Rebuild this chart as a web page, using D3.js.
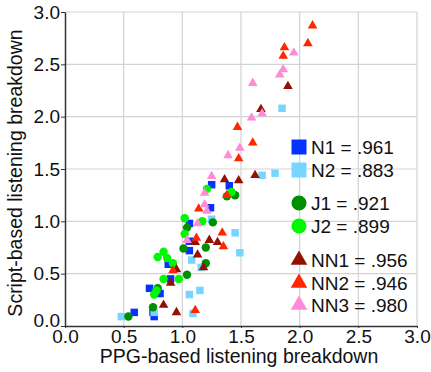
<!DOCTYPE html>
<html>
<head>
<meta charset="utf-8">
<script src="https://cdn.jsdelivr.net/npm/d3@7"></script>
<style>
  body { margin: 0; background: #fff; }
  svg { display: block; font-family: "Liberation Sans", Arial, sans-serif; }
</style>
</head>
<body>
<svg id="chart" width="431" height="372"></svg>
<script>
// values, [PPG, script]
const n1 = [[1.25,1.35],[1.40,1.34],[1.24,1.13],[1.06,0.98],[1.06,0.81],[1.06,0.72],[0.88,0.59],
  [0.90,0.45],[0.72,0.36],[0.81,0.31],[0.59,0.13],[0.75,0.13],[0.76,0.09]];
const n2 = [[1.25,1.02],[1.45,0.89],[1.49,0.70],[1.08,0.63],[1.16,0.56],[1.15,0.34],[1.06,0.30],
  [1.09,0.12],[0.48,0.09],[0.76,0.13],[1.68,1.44],[1.79,1.46],[1.85,2.08]];
const j1 = [[1.26,0.99],[1.38,1.24],[1.45,1.25],[1.04,0.94],[1.01,0.74],[1.20,0.75],[1.20,0.60],
  [1.04,0.49],[0.79,0.36],[0.75,0.18],[0.54,0.09]];
const j2 = [[1.21,1.31],[1.42,1.28],[1.02,1.03],[1.17,1.00],[1.02,0.88],[0.84,0.71],[0.79,0.66],
  [0.87,0.65],[0.92,0.60],[0.84,0.45],[0.97,0.45],[0.78,0.34],[0.76,0.30]];
const nn1 = [[1.36,1.40],[1.48,1.39],[1.23,0.82],[1.30,0.80],[1.11,0.80],[1.13,0.68],[1.18,0.56],
  [0.95,0.54],[0.90,0.41],[0.84,0.20],[0.95,0.13],[1.90,2.29],[1.67,2.07],[1.62,1.44]];
const nn2 = [[2.11,2.87],[2.07,2.70],[1.87,2.66],[1.86,2.58],[1.60,1.75],[1.47,1.90],[1.48,1.60],
  [1.38,1.25],[1.14,1.12],[1.34,0.89],[1.35,0.76],[1.12,0.84],[0.92,0.53],[1.11,0.15]];
const nn3 = [[1.95,2.61],[1.86,2.45],[1.83,2.40],[1.60,2.32],[1.68,2.03],[1.59,1.99],[1.49,1.70],
  [1.39,1.63],[1.25,1.43],[1.19,1.27],[1.19,1.16],[1.21,1.10],[1.13,0.98],[1.04,0.82]];

const ticks = [0, 0.5, 1.0, 1.5, 2.0, 2.5, 3.0];

const series = [
  { name: "N1", r: ".961", data: n1, shape: "square", color: "#0433ff" },
  { name: "N2", r: ".883", data: n2, shape: "square", color: "#76d6ff" },
  { name: "J1", r: ".921", data: j1, shape: "circle", color: "#008f00" },
  { name: "J2", r: ".899", data: j2, shape: "circle", color: "#00f900" },
  { name: "NN1", r: ".956", data: nn1, shape: "triangle", color: "#941100" },
  { name: "NN2", r: ".946", data: nn2, shape: "triangle", color: "#ff2600" },
  { name: "NN3", r: ".980", data: nn3, shape: "triangle", color: "#ff8ad8" }
];
// legend rows (gaps between groups)
const legendY = [147, 170, 203, 226, 260, 283, 305];

const svg = d3.select("#chart");
const m = { left: 65, right: 417, top: 12, bottom: 326 };

const x = d3.scaleLinear().domain([0, 3]).range([m.left, m.right]);
const y = d3.scaleLinear().domain([0, 3]).range([m.bottom, m.top]);

// grid
svg.append("g").selectAll("line").data(ticks.slice(1)).join("line")
  .attr("x1", d => x(d)).attr("x2", d => x(d))
  .attr("y1", m.top).attr("y2", m.bottom)
  .attr("stroke", "#d3d3d3").attr("stroke-width", 1.2);
svg.append("g").selectAll("line").data(ticks.slice(1)).join("line")
  .attr("x1", m.left).attr("x2", m.right)
  .attr("y1", d => y(d)).attr("y2", d => y(d))
  .attr("stroke", "#d3d3d3").attr("stroke-width", 1.2);

// axes
const xAxis = svg.append("g").attr("transform", `translate(0,${m.bottom})`)
  .call(d3.axisBottom(x).tickValues(ticks).tickFormat(d3.format(".1f")).tickSize(2).tickSizeOuter(0));
const yAxis = svg.append("g").attr("transform", `translate(${m.left},0)`)
  .call(d3.axisLeft(y).tickValues(ticks).tickFormat(d3.format(".1f")).tickSize(4).tickSizeOuter(0));
[xAxis, yAxis].forEach(a => {
  a.select(".domain").attr("stroke", "#333").attr("stroke-width", 1.5);
  a.selectAll(".tick line").attr("stroke", "#333");
  a.selectAll("text").attr("font-size", 19).attr("fill", "#111")
    .attr("font-family", "'Liberation Sans', Arial, sans-serif");
});
xAxis.selectAll("text").attr("y", 3).attr("dy", "0.73em");
yAxis.selectAll("text").attr("x", -5).attr("y", d => d === 0 ? -6 : 0);

svg.append("text")
  .attr("x", (m.left + m.right) / 2 - 2).attr("y", 363)
  .attr("text-anchor", "middle").attr("font-size", 19.5).attr("fill", "#111")
  .text("PPG-based listening breakdown");
svg.append("text")
  .attr("transform", `translate(22,${(m.top + m.bottom) / 2 + 4}) rotate(-90)`)
  .attr("text-anchor", "middle").attr("font-size", 19.5).attr("fill", "#111")
  .text("Script-based listening breakdown");

const symbolOf = { square: d3.symbolSquare, circle: d3.symbolCircle, triangle: d3.symbolTriangle };
const sizeOf = { square: 56, circle: 56, triangle: 40 };

// points
series.forEach(s => {
  svg.append("g").selectAll("path").data(s.data).join("path")
    .attr("transform", d => `translate(${x(d[0])},${y(d[1])})`)
    .attr("d", d3.symbol(symbolOf[s.shape], sizeOf[s.shape]))
    .attr("fill", s.color);
});

// legend
const lg = svg.append("g");
series.forEach((s, i) => {
  lg.append("path")
    .attr("transform", `translate(299,${legendY[i]})`)
    .attr("d", d3.symbol(symbolOf[s.shape], s.shape === "triangle" ? 120 : (s.shape === "circle" ? 180 : 225)))
    .attr("fill", s.color);
  lg.append("text")
    .attr("x", 311).attr("y", legendY[i]).attr("dy", "0.36em")
    .attr("font-size", 19).attr("fill", "#111")
    .text(`${s.name} = ${s.r}`);
});
</script>
</body>
</html>
